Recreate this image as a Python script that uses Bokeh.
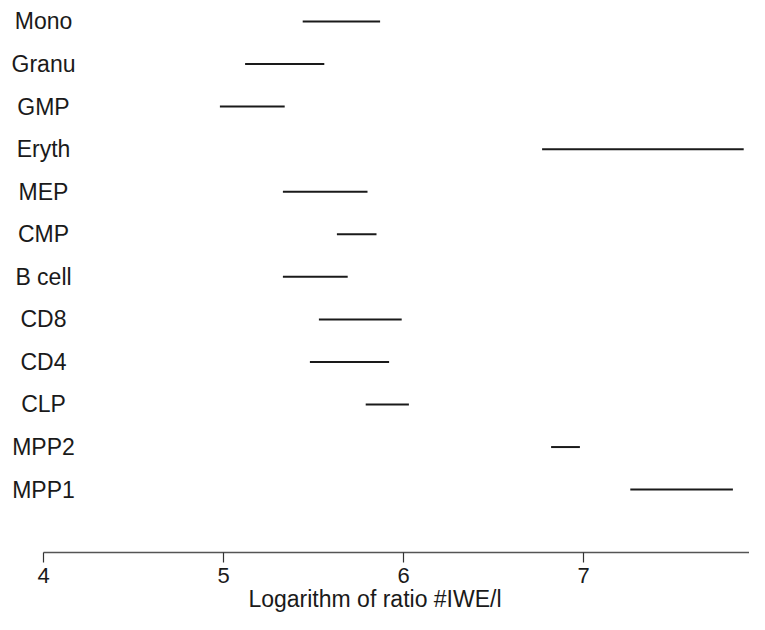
from bokeh.plotting import figure
from bokeh.models import Range1d, FixedTicker, ColumnDataSource
from bokeh.core.properties import value
from bokeh.embed import file_html
from bokeh.resources import INLINE

cells = ["MPP1", "MPP2", "CLP", "CD4", "CD8", "B cell", "CMP", "MEP", "Eryth", "GMP", "Granu", "Mono"]
low = [7.26, 6.82, 5.79, 5.48, 5.53, 5.33, 5.63, 5.33, 6.77, 4.98, 5.12, 5.44]
high = [7.83, 6.98, 6.03, 5.92, 5.99, 5.69, 5.85, 5.80, 7.89, 5.34, 5.56, 5.87]
x_ticks = [4, 5, 6, 7, 8]
x_title = "Logarithm of ratio #IWE/l"

pos = list(range(1, len(cells) + 1))
src = ColumnDataSource(dict(cell=cells, low=low, high=high, y=pos,
                            lx=[x_ticks[0]] * len(cells)))

FONT = "Liberation Sans"
W, H = 749, 614
px_per_unit = 180.0
left_px = 43
x0 = x_ticks[0] - left_px / px_per_unit
x1 = x_ticks[0] + (W - left_px) / px_per_unit

p = figure(width=W, height=H, output_backend="svg", toolbar_location=None,
           x_range=Range1d(x0, x1), y_range=Range1d(-0.4776, 12.4925),
           y_axis_location=None, min_border=0, min_border_bottom=59,
           min_border_left=0, min_border_right=0, min_border_top=0)
p.outline_line_color = None
p.grid.visible = False
p.background_fill_color = "white"
p.border_fill_color = "white"

p.segment(x0="low", y0="y", x1="high", y1="y", source=src,
          line_color="#1a1a1a", line_width=2)
p.text(x="lx", y="y", text="cell", source=src, text_align="center",
       text_baseline="middle", text_font=value(FONT),
       text_font_size=value("23px"), text_color="#1a1a1a")

ax = p.xaxis[0]
ax.ticker = FixedTicker(ticks=x_ticks)
ax.bounds = (x_ticks[0], x_ticks[-1])
ax.axis_line_color = "#555555"
ax.axis_line_width = 1.5
ax.major_tick_line_color = "#333333"
ax.major_tick_line_width = 1.2
ax.major_tick_out = 10
ax.major_tick_in = 0
ax.minor_tick_line_color = None
ax.major_label_text_font = FONT
ax.major_label_text_font_size = "22px"
ax.major_label_text_color = "#1a1a1a"
ax.major_label_text_line_height = 0.9
ax.major_label_standoff = 5
ax.axis_label = x_title
ax.axis_label_text_font = FONT
ax.axis_label_text_font_size = "23px"
ax.axis_label_text_font_style = "normal"
ax.axis_label_text_color = "#1a1a1a"
ax.axis_label_text_line_height = 0.9
ax.axis_label_standoff = 0

open("out.html", "w").write(file_html(p, INLINE))
